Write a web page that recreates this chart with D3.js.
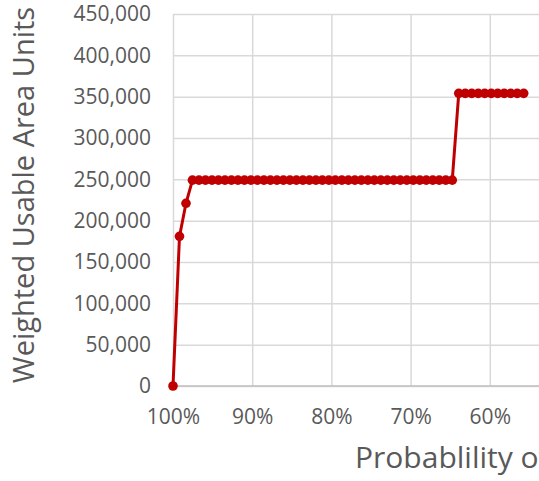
<!DOCTYPE html>
<html>
<head>
<meta charset="utf-8">
<script src="https://cdn.jsdelivr.net/npm/d3@7"></script>
<style>
  html, body { margin: 0; padding: 0; background: #fff; overflow: hidden; }
  svg { display: block; }
</style>
</head>
<body>
<script>
// probability (%) for each point
const probability = [
  100, 99.18, 98.36, 97.54, 96.72, 95.90, 95.08, 94.26, 93.44, 92.62,
  91.80, 90.98, 90.16, 89.34, 88.52, 87.70, 86.88, 86.06, 85.24, 84.42,
  83.60, 82.78, 81.96, 81.14, 80.32, 79.50, 78.68, 77.86, 77.04, 76.22,
  75.40, 74.58, 73.76, 72.94, 72.12, 71.30, 70.48, 69.66, 68.84, 68.02,
  67.20, 66.38, 65.56, 64.74, 63.92, 63.10, 62.28, 61.46, 60.64, 59.82,
  59.00, 58.18, 57.36, 56.54, 55.72
];

// weighted usable area units
const areaUnits = [
  0, 181000, 221000,
  249000, 249000, 249000, 249000, 249000, 249000, 249000, 249000, 249000, 249000,
  249000, 249000, 249000, 249000, 249000, 249000, 249000, 249000, 249000, 249000,
  249000, 249000, 249000, 249000, 249000, 249000, 249000, 249000, 249000, 249000,
  249000, 249000, 249000, 249000, 249000, 249000, 249000, 249000, 249000, 249000,
  249000,
  354000, 354000, 354000, 354000, 354000, 354000, 354000, 354000, 354000, 354000,
  354000
];

const yTicks = [0, 50000, 100000, 150000, 200000, 250000, 300000, 350000, 400000, 450000];
const xTicks = [100, 90, 80, 70, 60]; // the rest of the axis is cropped off

const yTitle = 'Weighted Usable Area Units';
const xTitle = 'Probablility of Exceedance';

const svgWidth = 539;
const svgHeight = 481;
const margin = { top: 14, left: 173, bottom: 95 };
const plotWidth = 792; // full plot runs past the right edge (cropped)
const plotHeight = svgHeight - margin.top - margin.bottom;

const font = '"Open Sans", sans-serif';
const textColor = '#595959';
const lineColor = '#c00000';

const svg = d3.select('body')
  .append('svg')
  .attr('width', svgWidth)
  .attr('height', svgHeight);

const xScale = d3.scaleLinear().domain([100, 0]).range([0, plotWidth]);
const yScale = d3.scaleLinear().domain([0, 450000]).range([plotHeight, 0]);

const chart = svg.append('g')
  .attr('transform', `translate(${margin.left}, ${margin.top})`);

// horizontal grid lines
chart.append('g')
  .call(d3.axisLeft(yScale).tickValues(yTicks).tickSize(-plotWidth).tickFormat(''))
  .call(g => g.select('.domain').remove())
  .selectAll('.tick line')
  .attr('stroke', '#d9d9d9')
  .attr('stroke-width', 1.5);

// vertical grid lines
chart.append('g')
  .attr('transform', `translate(0, ${plotHeight})`)
  .call(d3.axisBottom(xScale).tickValues(xTicks).tickSize(-plotHeight).tickFormat(''))
  .call(g => g.select('.domain').remove())
  .selectAll('.tick line')
  .attr('stroke', '#d9d9d9')
  .attr('stroke-width', 1.5);

// x axis line
chart.append('line')
  .attr('x1', 0).attr('x2', plotWidth)
  .attr('y1', yScale(0)).attr('y2', yScale(0))
  .attr('stroke', '#bfbfbf')
  .attr('stroke-width', 1.5);

// y tick labels
chart.append('g')
  .call(d3.axisLeft(yScale).tickValues(yTicks).tickSize(0).tickPadding(22).tickFormat(d3.format(',')))
  .call(g => g.select('.domain').remove())
  .selectAll('text')
  .attr('fill', textColor)
  .style('font-family', font)
  .style('font-size', '21px');

// x tick labels
chart.append('g')
  .attr('transform', `translate(0, ${plotHeight})`)
  .call(d3.axisBottom(xScale).tickValues(xTicks).tickSize(0).tickPadding(23).tickFormat(d => d + '%'))
  .call(g => g.select('.domain').remove())
  .selectAll('text')
  .attr('fill', textColor)
  .style('font-family', font)
  .style('font-size', '21px');

// data line
const line = d3.line()
  .x((d, i) => xScale(probability[i]))
  .y(d => yScale(d));

chart.append('path')
  .datum(areaUnits)
  .attr('fill', 'none')
  .attr('stroke', lineColor)
  .attr('stroke-width', 3)
  .attr('d', line);

chart.selectAll('circle.pt')
  .data(areaUnits)
  .enter().append('circle')
  .attr('class', 'pt')
  .attr('cx', (d, i) => xScale(probability[i]))
  .attr('cy', d => yScale(d))
  .attr('r', 4.8)
  .attr('fill', lineColor);

// axis titles
svg.append('text')
  .attr('transform', 'translate(34, 195) rotate(-90)')
  .attr('text-anchor', 'middle')
  .attr('fill', textColor)
  .style('font-family', font)
  .style('font-size', '29px')
  .text(yTitle);

// the reference is cropped, so this title runs off the right edge
svg.append('text')
  .attr('x', 355)
  .attr('y', 468)
  .attr('fill', textColor)
  .style('font-family', font)
  .style('font-size', '30px')
  .text(xTitle);
</script>
</body>
</html>
